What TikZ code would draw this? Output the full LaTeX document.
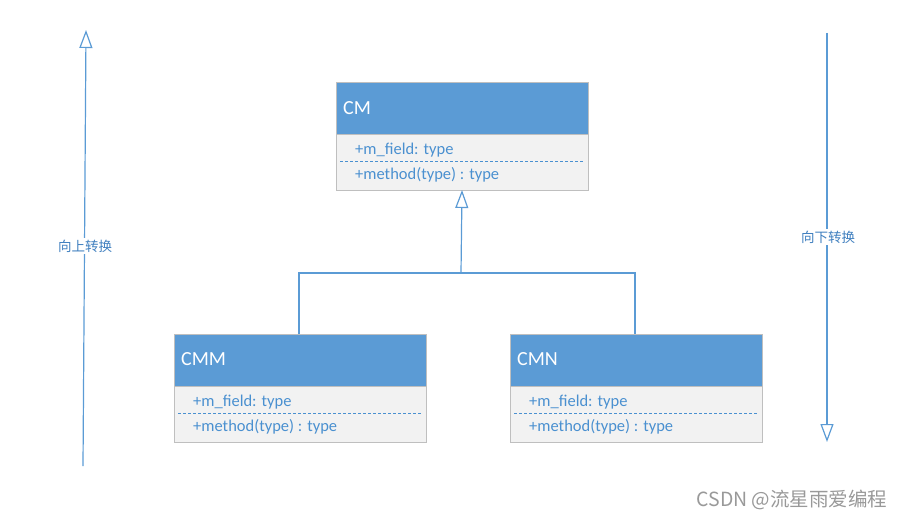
\documentclass[tikz,border=0pt]{standalone}
\usepackage{fontspec}
\setmainfont{Carlito}
\newfontfamily\cjk{Noto Sans CJK SC}
\usetikzlibrary{arrows.meta}
\definecolor{umlblue}{HTML}{5B9BD5}
\definecolor{umltext}{HTML}{4A90D0}
\definecolor{umlbody}{HTML}{F2F2F2}
\definecolor{umlborder}{HTML}{BFBFBF}
\definecolor{lblblue}{HTML}{3F7FBF}
\tikzset{
  hdr/.style={draw=umlborder, fill=umlblue, minimum width=252pt, minimum height=52pt, inner sep=0pt, outer sep=0pt},
  bdy/.style={draw=umlborder, fill=umlbody, minimum width=252pt, minimum height=56pt, inner sep=0pt, outer sep=0pt},
  ttl/.style={text=white, font=\fontsize{20}{24}\selectfont, anchor=west, inner sep=0pt},
  mem/.style={text=umltext, font=\fontsize{16.5}{19}\selectfont, anchor=west, inner sep=0pt},
  sep/.style={draw=umltext, dash pattern=on 3pt off 2pt, line width=0.9pt},
  conn/.style={draw=umlblue, line width=1.2pt},
  opentip/.style={-{Triangle[open, length=18pt, width=13pt, fill=white]}},
  side/.style={text=lblblue, fill=white, font=\cjk\fontsize{13.5}{16}\selectfont, inner sep=2pt}
}
\begin{document}
\begin{tikzpicture}[x=1pt, y=-1pt]
\useasboundingbox (0,0) rectangle (904,519);
% CM
\node[hdr, anchor=north west] (cmh) at (336,82) {};
\node[bdy, anchor=north west] (cmb) at (336,134) {};
\node[ttl] (cmt) at (343,108) {CM};
\node[mem] (cmf) at (355,150) {+m\_field: type};
\node[mem] (cmm) at (355,175) {+method(type) : type};
\draw[sep] (340,161.5) -- (583,161.5);
% CMM
\node[hdr, anchor=north west] (cmmh) at (174,334) {};
\node[bdy, anchor=north west] (cmmb) at (174,386) {};
\node[ttl] (cmmt) at (181,359) {CMM};
\node[mem] (cmmf) at (193,402) {+m\_field: type};
\node[mem] (cmmm) at (193,427) {+method(type) : type};
\draw[sep] (178,413.5) -- (421,413.5);
% CMN
\node[hdr, anchor=north west] (cmnh) at (510,334) {};
\node[bdy, anchor=north west] (cmnb) at (510,386) {};
\node[ttl] (cmnt) at (517,359) {CMN};
\node[mem] (cmnf) at (529,402) {+m\_field: type};
\node[mem] (cmnm) at (529,427) {+method(type) : type};
\draw[sep] (514,413.5) -- (757,413.5);
% inheritance
\coordinate (j) at (461,273);
\draw[conn] (cmmh.north -| 299,0) |- (j);
\draw[conn] (cmnh.north -| 635,0) |- (j);
\draw[conn, opentip] (j) -- (cmb.south);
% side arrows
\coordinate (l1) at (83,466);
\coordinate (l2) at (86,30);
\draw[conn, opentip] (l1) -- (l2);
\node[side] (lup) at (85,246) {向上转换};
\coordinate (r1) at (827,33);
\coordinate (r2) at (827,442);
\draw[conn, opentip] (r1) -- (r2);
\node[side] (ldn) at (828,237) {向下转换};
% watermark
\node[text=gray!80, font=\cjk\fontsize{19.5}{22}\selectfont, inner sep=0pt] (wm) at (792,500) {CSDN @流星雨爱编程};
\end{tikzpicture}
\end{document}
